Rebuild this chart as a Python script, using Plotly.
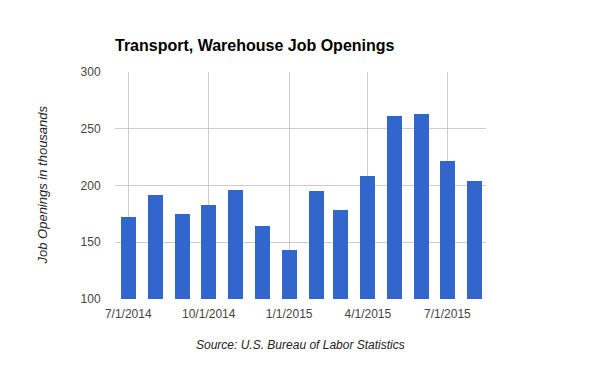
import plotly.graph_objects as go

# ---- data ----
months = ["2014-07-01", "2014-08-01", "2014-09-01", "2014-10-01", "2014-11-01",
          "2014-12-01", "2015-01-01", "2015-02-01", "2015-03-01", "2015-04-01",
          "2015-05-01", "2015-06-01", "2015-07-01", "2015-08-01"]
openings = [172, 192, 175, 183, 196, 164, 143, 195, 178, 208, 261, 263, 222, 204]

tick_dates = ["2014-07-01", "2014-10-01", "2015-01-01", "2015-04-01", "2015-07-01"]
tick_labels = ["7/1/2014", "10/1/2014", "1/1/2015", "4/1/2015", "7/1/2015"]
y_ticks = [100, 150, 200, 250, 300]

title_text = "Transport, Warehouse Job Openings"
y_title = "Job Openings in thousands"
x_title = "Source: U.S. Bureau of Labor Statistics"

FONT = "Arial, 'Liberation Sans', sans-serif"
DAY_MS = 86400000

fig = go.Figure(go.Bar(
    x=months, y=openings,
    width=[17.1 * DAY_MS] * len(months),
    marker=dict(color="#3366cc", line=dict(width=0)),
    hoverinfo="x+y",
))

fig.update_layout(
    width=600, height=371,
    margin=dict(l=115, r=114, t=72, b=72),
    paper_bgcolor="white", plot_bgcolor="white",
    font=dict(family=FONT, size=12, color="#444444"),
    showlegend=False,
    bargap=0,
    title=dict(text="<b>" + title_text + "</b>", x=115 / 600, xref="container",
               xanchor="left", y=1 - 45 / 371, yref="container", yanchor="middle",
               font=dict(family=FONT, size=16, color="#000000")),
    xaxis=dict(
        type="date",
        range=["2014-06-15 20:00", "2015-08-14 03:00"],
        tickmode="array", tickvals=tick_dates, ticktext=tick_labels,
        showgrid=True, gridcolor="#cccccc", gridwidth=1,
        zeroline=False, showline=False,
        ticks="outside", ticklen=4, tickcolor="rgba(0,0,0,0)",
        tickfont=dict(family=FONT, size=12, color="#444444"),
    ),
    yaxis=dict(
        range=[100, 300],
        tickmode="array", tickvals=y_ticks, ticktext=[str(v) for v in y_ticks],
        showgrid=True, gridcolor="#cccccc", gridwidth=1,
        zeroline=False, showline=False,
        ticks="outside", ticklen=11, tickcolor="rgba(0,0,0,0)",
        tickfont=dict(family=FONT, size=12, color="#444444"),
    ),
    annotations=[
        dict(text="<i>" + y_title + "</i>", xref="paper", yref="paper",
             x=(42 - 115) / 371, y=0.5, xanchor="center", yanchor="middle",
             textangle=-90, showarrow=False,
             font=dict(family=FONT, size=13, color="#222222")),
        dict(text="<i>" + x_title + "</i>", xref="paper", yref="paper",
             x=0.5, y=(299 - 345) / 227, xanchor="center", yanchor="middle",
             showarrow=False,
             font=dict(family=FONT, size=12, color="#222222")),
    ],
)

fig.write_html("out.html",
               config={"displayModeBar": False},
               post_script="document.body.style.margin='0';document.body.style.padding='0';")
